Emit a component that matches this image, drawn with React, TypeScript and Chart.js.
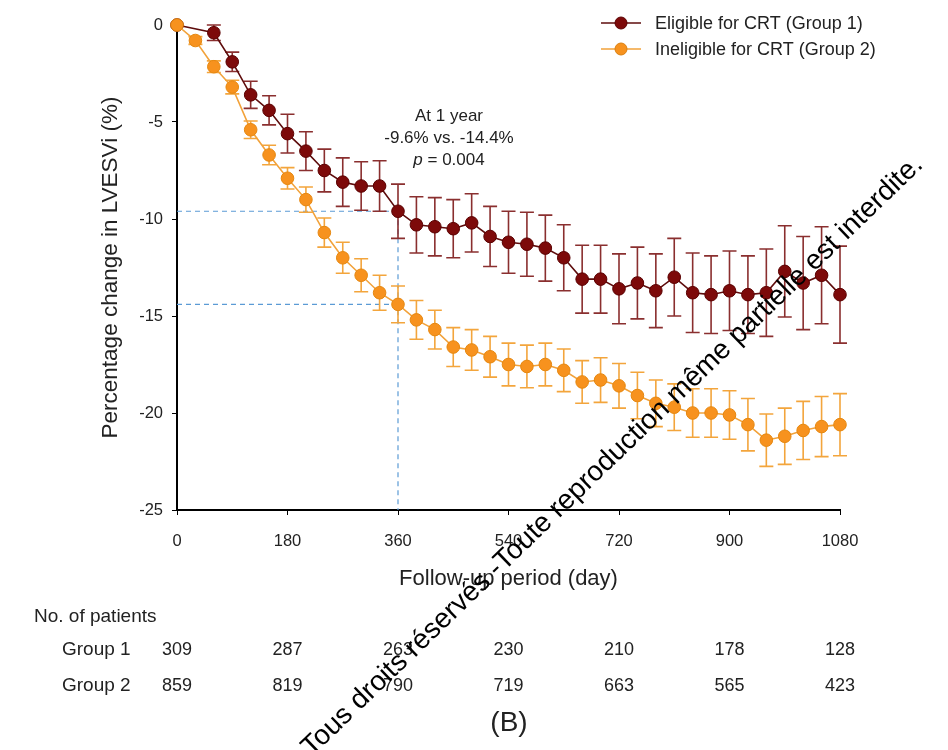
import { useEffect, useRef } from "react";
import { Chart, registerables } from "chart.js";

Chart.register(...registerables);

// ---------------- data ----------------
const days = [
  0, 30, 60, 90, 120, 150, 180, 210, 240, 270, 300, 330, 360, 390, 420, 450, 480, 510, 540,
  570, 600, 630, 660, 690, 720, 750, 780, 810, 840, 870, 900, 930, 960, 990, 1020, 1050, 1080,
];

const group1Mean: (number | null)[] = [
  0, null, -0.4, -1.9, -3.6, -4.4, -5.6, -6.5, -7.5, -8.1, -8.3, -8.3, -9.6, -10.3, -10.4, -10.5,
  -10.2, -10.9, -11.2, -11.3, -11.5, -12.0, -13.1, -13.1, -13.6, -13.3, -13.7, -13.0, -13.8, -13.9,
  -13.7, -13.9, -13.8, -12.7, -13.3, -12.9, -13.9,
];
const group1Err: (number | null)[] = [
  0, null, 0.4, 0.5, 0.7, 0.75, 1.0, 1.0, 1.1, 1.25, 1.25, 1.3, 1.4, 1.45, 1.5, 1.5, 1.5, 1.55,
  1.6, 1.65, 1.7, 1.7, 1.75, 1.75, 1.8, 1.85, 1.9, 2.0, 2.05, 2.0, 2.05, 2.0, 2.25, 2.35, 2.4, 2.5,
  2.5,
];

const group2Mean: number[] = [
  0, -0.8, -2.15, -3.2, -5.4, -6.7, -7.9, -9.0, -10.7, -12.0, -12.9, -13.8, -14.4, -15.2, -15.7,
  -16.6, -16.75, -17.1, -17.5, -17.6, -17.5, -17.8, -18.4, -18.3, -18.6, -19.1, -19.5, -19.7,
  -20.0, -20.0, -20.1, -20.6, -21.4, -21.2, -20.9, -20.7, -20.6,
];
const group2Err: number[] = [
  0, 0.2, 0.3, 0.35, 0.45, 0.5, 0.55, 0.65, 0.75, 0.8, 0.85, 0.9, 0.95, 1.0, 1.0, 1.0, 1.05, 1.05,
  1.1, 1.1, 1.1, 1.1, 1.1, 1.15, 1.15, 1.2, 1.2, 1.2, 1.25, 1.25, 1.25, 1.35, 1.35, 1.45, 1.5,
  1.55, 1.6,
];

const xTickValues = [0, 180, 360, 540, 720, 900, 1080];
const group1Counts = [309, 287, 263, 230, 210, 178, 128];
const group2Counts = [859, 819, 790, 719, 663, 565, 423];

const seriesLabels = ["Eligible for CRT (Group 1)", "Ineligible for CRT (Group 2)"];
const markerDay = 360;
const markerG1 = -9.6;
const markerG2 = -14.4;
const annotationLines = ["At 1 year", "-9.6% vs. -14.4%", "= 0.004"];
const watermark = "Tous droits réservés -Toute reproduction même partielle est interdite.";

// ---------------- styles ----------------
const FONT = "'Liberation Sans', Arial, Helvetica, sans-serif";
const RED_LINE = "#5e0c0c";
const RED_DOT = "#7d0a0a";
const RED_ERR = "#8a2f2f";
const ORANGE_LINE = "#f2a23a";
const ORANGE_DOT = "#f7921e";
const ORANGE_ERR = "#f3a53c";
const TEXT = "#222222";

const errorBarPlugin = {
  id: "errorBars",
  beforeDatasetDraw(chart: any, args: any) {
    const ds = chart.data.datasets[args.index];
    const errs = ds.errors as (number | null)[] | undefined;
    if (!errs) return;
    const meta = chart.getDatasetMeta(args.index);
    const yS = chart.scales.y;
    const ctx = chart.ctx as CanvasRenderingContext2D;
    const cap = 7;
    ctx.save();
    ctx.strokeStyle = ds.errorColor;
    ctx.lineWidth = 1.6;
    meta.data.forEach((pt: any, i: number) => {
      const v = ds.data[i].y;
      const e = errs[i];
      if (v == null || !e) return;
      const x = pt.x;
      const yt = yS.getPixelForValue(v + e);
      const yb = yS.getPixelForValue(v - e);
      ctx.beginPath();
      ctx.moveTo(x, yt);
      ctx.lineTo(x, yb);
      ctx.moveTo(x - cap, yt);
      ctx.lineTo(x + cap, yt);
      ctx.moveTo(x - cap, yb);
      ctx.lineTo(x + cap, yb);
      ctx.stroke();
    });
    ctx.restore();
  },
};

const guidePlugin = {
  id: "guides",
  beforeDatasetsDraw(chart: any) {
    const { ctx, scales } = chart;
    const xS = scales.x;
    const yS = scales.y;
    const x0 = xS.getPixelForValue(0);
    const xm = xS.getPixelForValue(markerDay);
    const y1 = yS.getPixelForValue(markerG1);
    const y2 = yS.getPixelForValue(markerG2);
    const yb = yS.getPixelForValue(-25);
    ctx.save();
    ctx.strokeStyle = "#5b9bd5";
    ctx.lineWidth = 1.2;
    ctx.setLineDash([5, 4]);
    ctx.beginPath();
    ctx.moveTo(x0, y1);
    ctx.lineTo(xm, y1);
    ctx.moveTo(x0, y2);
    ctx.lineTo(xm, y2);
    ctx.moveTo(xm, y1);
    ctx.lineTo(xm, yb);
    ctx.stroke();
    ctx.restore();
  },
};

const extrasPlugin = {
  id: "extras",
  afterDraw(chart: any) {
    const ctx = chart.ctx as CanvasRenderingContext2D;
    const xS = chart.scales.x;
    ctx.save();
    ctx.fillStyle = TEXT;
    ctx.textBaseline = "middle";

    // legend
    const legendItems = [
      { y: 23, line: RED_LINE, dot: RED_DOT, border: "#5a0000" },
      { y: 49, line: ORANGE_LINE, dot: ORANGE_DOT, border: "#d97f10" },
    ];
    legendItems.forEach((it, i) => {
      ctx.strokeStyle = it.line;
      ctx.lineWidth = 1.6;
      ctx.beginPath();
      ctx.moveTo(601, it.y);
      ctx.lineTo(641, it.y);
      ctx.stroke();
      ctx.beginPath();
      ctx.arc(621, it.y, 6, 0, Math.PI * 2);
      ctx.fillStyle = it.dot;
      ctx.fill();
      ctx.strokeStyle = it.border;
      ctx.lineWidth = 1;
      ctx.stroke();
      ctx.fillStyle = TEXT;
      ctx.font = `18px ${FONT}`;
      ctx.textAlign = "left";
      ctx.fillText(seriesLabels[i], 655, it.y + 1);
    });

    // annotation
    const ax = 449;
    ctx.font = `17px ${FONT}`;
    ctx.textAlign = "center";
    ctx.fillText(annotationLines[0], ax, 116);
    ctx.fillText(annotationLines[1], ax, 138);
    const pFont = `italic 17px ${FONT}`;
    const nFont = `17px ${FONT}`;
    ctx.font = pFont;
    const pw = ctx.measureText("p ").width;
    ctx.font = nFont;
    const rw = ctx.measureText(annotationLines[2]).width;
    const start = ax - (pw + rw) / 2;
    ctx.textAlign = "left";
    ctx.font = pFont;
    ctx.fillText("p ", start, 160);
    ctx.font = nFont;
    ctx.fillText(annotationLines[2], start + pw, 160);

    // patient table
    ctx.font = `19px ${FONT}`;
    ctx.textAlign = "left";
    ctx.fillText("No. of patients", 34, 617);
    ctx.fillText("Group 1", 62, 650);
    ctx.fillText("Group 2", 62, 686);
    ctx.font = `18px ${FONT}`;
    ctx.textAlign = "center";
    xTickValues.forEach((d, i) => {
      const x = xS.getPixelForValue(d);
      ctx.fillText(String(group1Counts[i]), x, 650);
      ctx.fillText(String(group2Counts[i]), x, 686);
    });

    // panel label
    ctx.font = `28px ${FONT}`;
    ctx.fillText("(B)", 509, 723);

    // watermark
    ctx.save();
    ctx.translate(924, 166);
    ctx.rotate((-44 * Math.PI) / 180);
    ctx.font = `28px ${FONT}`;
    ctx.fillStyle = "#000";
    ctx.textAlign = "right";
    ctx.textBaseline = "alphabetic";
    ctx.fillText(watermark, 0, 0);
    ctx.restore();

    ctx.restore();
  },
};

export default function App() {
  const ref = useRef<HTMLCanvasElement | null>(null);

  useEffect(() => {
    if (!ref.current) return;
    Chart.defaults.font.family = FONT;
    const chart = new Chart(ref.current, {
      type: "line",
      data: {
        datasets: [
          {
            label: seriesLabels[1],
            data: days.map((d, i) => ({ x: d, y: group2Mean[i] })),
            borderColor: ORANGE_LINE,
            borderWidth: 1.6,
            pointRadius: 6.3,
            pointBackgroundColor: ORANGE_DOT,
            pointBorderColor: "#e5870f",
            pointBorderWidth: 1,
            tension: 0,
            clip: false,
            errors: group2Err,
            errorColor: ORANGE_ERR,
          } as any,
          {
            label: seriesLabels[0],
            data: days.map((d, i) => ({ x: d, y: group1Mean[i] })),
            borderColor: RED_LINE,
            borderWidth: 1.6,
            pointRadius: 6.3,
            pointBackgroundColor: RED_DOT,
            pointBorderColor: "#5a0000",
            pointBorderWidth: 1,
            tension: 0,
            spanGaps: true,
            clip: false,
            errors: group1Err,
            errorColor: RED_ERR,
          } as any,
        ],
      },
      options: {
        responsive: false,
        animation: false,
        devicePixelRatio: 1,
        layout: { padding: { left: 96, right: 108, top: 25, bottom: 154 } },
        plugins: { legend: { display: false }, tooltip: { enabled: false } },
        scales: {
          x: {
            type: "linear",
            min: 0,
            max: 1080,
            afterBuildTicks: (s: any) => {
              s.ticks = xTickValues.map((v) => ({ value: v }));
            },
            ticks: {
              font: { size: 16.5 },
              color: TEXT,
              padding: 17,
              callback: (v: any) => String(v),
            },
            grid: { drawOnChartArea: false, drawTicks: true, tickLength: 5, color: "#000" },
            border: { color: "#000", width: 2 },
            title: {
              display: true,
              text: "Follow-up period (day)",
              font: { size: 22 },
              color: TEXT,
              padding: { top: 0, bottom: 4 },
            },
            afterFit: (s: any) => {
              s.height = 86;
            },
          },
          y: {
            min: -25,
            max: 0,
            ticks: { stepSize: 5, font: { size: 16.5 }, color: TEXT, padding: 9 },
            grid: { drawOnChartArea: false, drawTicks: true, tickLength: 5, color: "#000" },
            border: { color: "#000", width: 2 },
            title: {
              display: true,
              text: "Percentage change in LVESVi (%)",
              font: { size: 22.5 },
              color: TEXT,
              padding: { top: 1, bottom: 0 },
            },
            afterFit: (s: any) => {
              s.width = 81;
            },
          },
        },
      },
      plugins: [guidePlugin, errorBarPlugin, extrasPlugin],
    });
    return () => chart.destroy();
  }, []);

  return (
    <div
      style={{
        position: "fixed",
        left: 0,
        top: 0,
        width: 948,
        height: 750,
        background: "#fff",
      }}
    >
      <canvas ref={ref} width={948} height={750} style={{ width: 948, height: 750 }} />
    </div>
  );
}
